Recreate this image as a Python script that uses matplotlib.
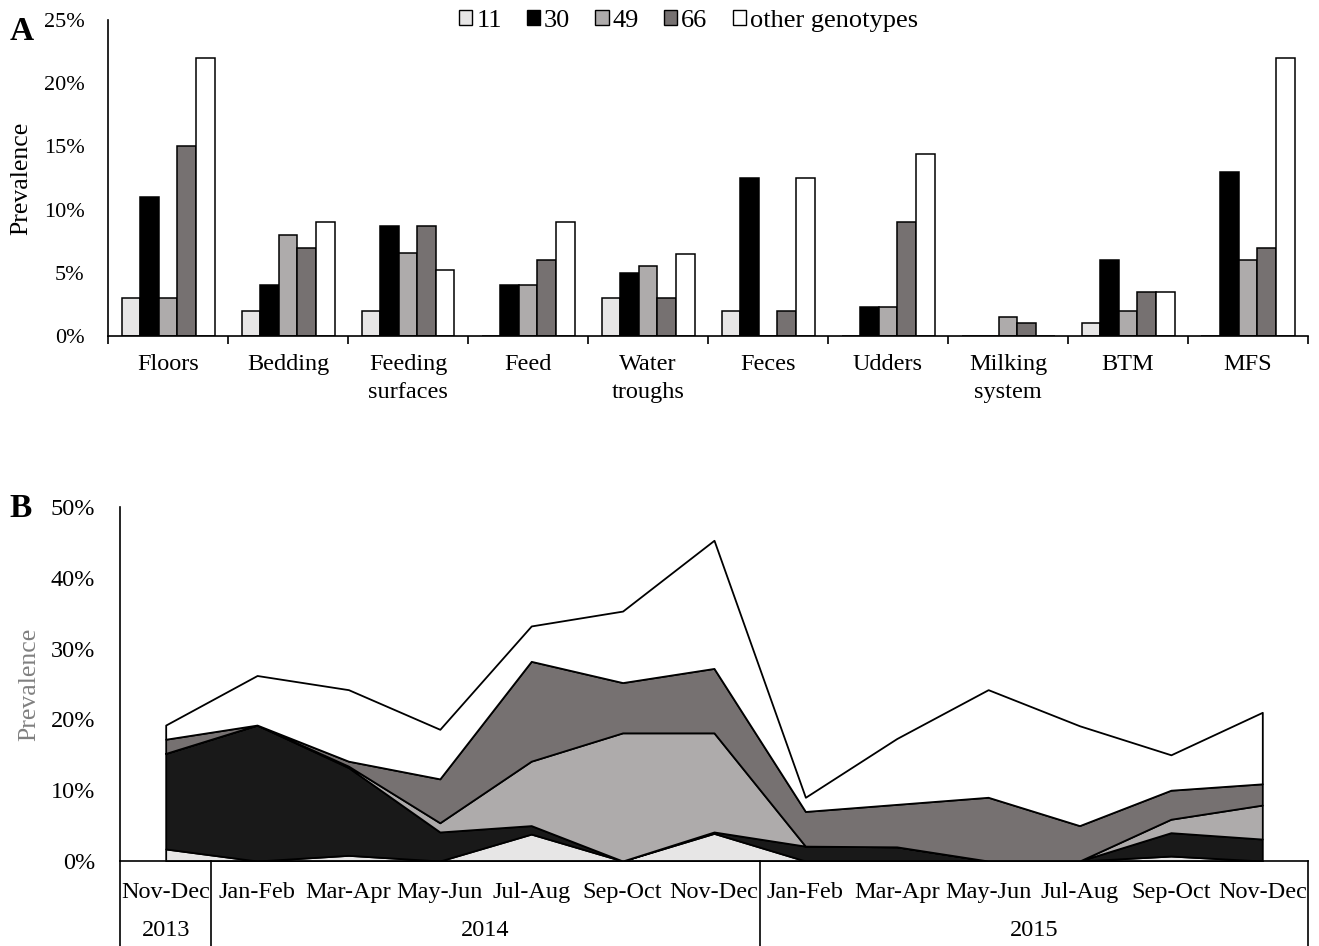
import matplotlib
matplotlib.use('Agg')
import matplotlib.pyplot as plt
from matplotlib.patches import Patch
import numpy as np

plt.rcParams['font.family'] = ['Liberation Serif', 'DejaVu Serif']

# panel A: prevalence by sample type
categories = ['Floors', 'Bedding', 'Feeding\nsurfaces', 'Feed', 'Water\ntroughs',
              'Feces', 'Udders', 'Milking\nsystem', 'BTM', 'MFS']
g11 = [3, 2, 2, 0, 3, 2, 0, 0, 1, 0]
g30 = [11, 4, 8.7, 4, 5, 12.5, 2.3, 0, 6, 13]
g49 = [3, 8, 6.6, 4, 5.5, 0, 2.3, 1.5, 2, 6]
g66 = [15, 7, 8.7, 6, 3, 2, 9, 1, 3.5, 7]
gother = [22, 9, 5.2, 9, 6.5, 12.5, 14.4, 0, 3.5, 22]

# panel B: prevalence over time (stacked)
periods = ['Nov-Dec', 'Jan-Feb', 'Mar-Apr', 'May-Jun', 'Jul-Aug', 'Sep-Oct', 'Nov-Dec',
           'Jan-Feb', 'Mar-Apr', 'May-Jun', 'Jul-Aug', 'Sep-Oct', 'Nov-Dec']
years = ['2013', '2014', '2015']
year_len = [1, 6, 6]
t11 = [1.7, 0, 0.8, 0, 3.8, 0, 3.9, 0, 0, 0, 0, 0.7, 0]
t30 = [13.5, 19.2, 12.4, 4.1, 1.2, 0, 0.2, 2.1, 2.0, 0, 0, 3.3, 3.1]
t49 = [0, 0, 0.2, 1.3, 9.1, 18.1, 14.0, 0, 0, 0, 0, 1.9, 4.8]
t66 = [2.0, 0, 0.7, 6.2, 14.1, 7.1, 9.1, 4.9, 6.0, 9.0, 5.0, 4.1, 3.0]
tother = [2.0, 7.0, 10.1, 7.0, 5.0, 10.1, 18.1, 2.0, 9.3, 15.2, 14.1, 5.0, 10.1]

labels = ['11', '30', '49', '66', 'other genotypes']
colors = ['#e7e6e6', '#000000', '#aeabab', '#767171', '#ffffff']
area_colors = ['#e7e6e6', '#191919', '#aeabab', '#767171', '#ffffff']

fig = plt.figure(figsize=(13.19, 9.46), dpi=100)

# ---- panel A ----
axA = fig.add_axes([108/1319, 1-336/946, 1200/1319, 316/946])
x = np.arange(len(categories))
w = 0.155
for k, vals in enumerate([g11, g30, g49, g66, gother]):
    axA.bar(x + (k-2)*w, vals, w, color=colors[k], edgecolor='black', linewidth=1.1)
axA.set_xlim(-0.5, len(categories)-0.5)
axA.set_ylim(0, 25)
axA.set_yticks([0, 5, 10, 15, 20, 25])
axA.set_yticklabels(['0%', '5%', '10%', '15%', '20%', '25%'])
axA.tick_params(axis='y', length=0, pad=17, labelsize=16)
axA.set_xticks(np.arange(-0.5, len(categories)))
axA.set_xticklabels([])
axA.tick_params(axis='x', which='major', length=6, width=1.2, direction='out')
axA.set_xticks(x, minor=True)
axA.set_xticklabels(categories, minor=True, linespacing=1.45)
axA.tick_params(axis='x', which='minor', length=0, pad=13, labelsize=17.5)
for s in ['top', 'right']:
    axA.spines[s].set_visible(False)
axA.spines['left'].set_linewidth(1.2)
axA.spines['bottom'].set_linewidth(1.2)
axA.set_ylabel('Prevalence', fontsize=18.5)
axA.yaxis.set_label_coords(-0.063, 0.5)

handles = [Patch(facecolor=c, edgecolor='black', linewidth=1.0) for c in colors]
fig.legend(handles, labels, loc='center', bbox_to_anchor=(0.522, 0.978), ncol=5,
           frameon=False, fontsize=19, handlelength=0.5, handleheight=0.5,
           handletextpad=0.15, columnspacing=0.95)

fig.text(0.007, 0.967, 'A', fontsize=24, fontweight='bold', va='center')

# ---- panel B ----
axB = fig.add_axes([120/1319, 1-861/946, 1188/1319, 354/946])
xt = np.arange(len(periods))
axB.stackplot(xt, t11, t30, t49, t66, tother, colors=area_colors,
              edgecolor='black', linewidth=1.3)
axB.set_xlim(-0.5, len(periods)-0.5)
axB.set_ylim(0, 50)
axB.set_yticks([0, 10, 20, 30, 40, 50])
axB.set_yticklabels(['0%', '10%', '20%', '30%', '40%', '50%'])
axB.tick_params(axis='y', length=0, pad=18, labelsize=17.5)
axB.set_xticks(xt)
axB.set_xticklabels(periods)
axB.tick_params(axis='x', length=0, pad=15, labelsize=17.5)
for s in ['top', 'right']:
    axB.spines[s].set_visible(False)
axB.spines['left'].set_linewidth(1.2)
axB.spines['bottom'].set_linewidth(1.2)
axB.set_ylabel('Prevalence', fontsize=18.5, color='#808080')
axB.yaxis.set_label_coords(-0.067, 0.5)

# year rows under the month labels
tr = axB.get_xaxis_transform()
edges = np.concatenate([[0], np.cumsum(year_len)]) - 0.5
for e in edges:
    axB.plot([e, e], [0, -0.24], color='black', linewidth=1.2, transform=tr, clip_on=False)
for i, yr in enumerate(years):
    axB.text((edges[i] + edges[i+1]) / 2, -0.195, yr, transform=tr,
             ha='center', va='center', fontsize=17.5)

fig.text(0.007, 0.463, 'B', fontsize=24, fontweight='bold', va='center')

fig.savefig('out.png', dpi=100)
